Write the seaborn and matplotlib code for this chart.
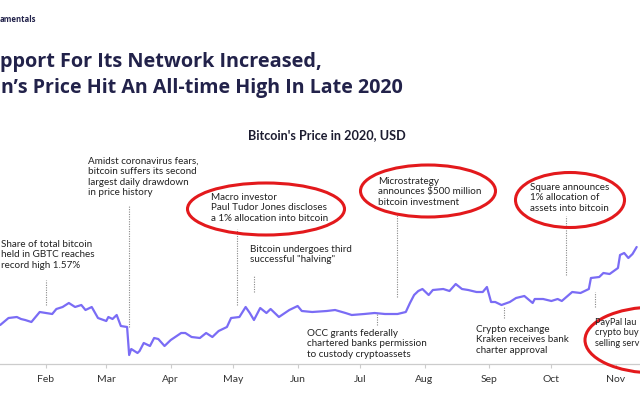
import pandas as pd
import matplotlib.pyplot as plt
import matplotlib.dates as mdates
from matplotlib.patches import Ellipse
import seaborn as sns

# Bitcoin price 2020 (USD)
dates = ['2020-01-10', '2020-01-14', '2020-01-18', '2020-01-20', '2020-01-22', '2020-01-25',
         '2020-01-29', '2020-02-04', '2020-02-06', '2020-02-09', '2020-02-12', '2020-02-15',
         '2020-02-18', '2020-02-20', '2020-02-23', '2020-02-26', '2020-03-01', '2020-03-02',
         '2020-03-04', '2020-03-06', '2020-03-08', '2020-03-11', '2020-03-12', '2020-03-13',
         '2020-03-16', '2020-03-17', '2020-03-19', '2020-03-22', '2020-03-24', '2020-03-26',
         '2020-03-29', '2020-04-01', '2020-04-06', '2020-04-08', '2020-04-11', '2020-04-15',
         '2020-04-18', '2020-04-21', '2020-04-24', '2020-04-28', '2020-04-30', '2020-05-04',
         '2020-05-07', '2020-05-09', '2020-05-11', '2020-05-14', '2020-05-17', '2020-05-19',
         '2020-05-23', '2020-05-28', '2020-06-01', '2020-06-03', '2020-06-08', '2020-06-15',
         '2020-06-19', '2020-06-24', '2020-06-27', '2020-07-03', '2020-07-08', '2020-07-13',
         '2020-07-19', '2020-07-23', '2020-07-25', '2020-07-27', '2020-07-29', '2020-07-31',
         '2020-08-03', '2020-08-05', '2020-08-10', '2020-08-13', '2020-08-16', '2020-08-19',
         '2020-08-22', '2020-08-26', '2020-08-29', '2020-08-31', '2020-09-02', '2020-09-04',
         '2020-09-07', '2020-09-11', '2020-09-14', '2020-09-18', '2020-09-22', '2020-09-23',
         '2020-09-27', '2020-10-01', '2020-10-04', '2020-10-06', '2020-10-11', '2020-10-15',
         '2020-10-19', '2020-10-20', '2020-10-24', '2020-10-26', '2020-10-29', '2020-10-31',
         '2020-11-02', '2020-11-03', '2020-11-05', '2020-11-07', '2020-11-09', '2020-11-11']
prices = [8150, 8850, 8950, 8750, 8650, 8450,
          9450, 9250, 9750, 9950, 10350, 9950,
          10150, 9650, 9950, 8850, 8550, 8950,
          8750, 9150, 8050, 7950, 5150, 5750,
          5350, 5550, 6350, 6050, 6850, 6750,
          6050, 6650, 7350, 7350, 6950, 6850,
          7350, 6950, 7550, 7950, 8850, 8950,
          9950, 9350, 8650, 9850, 9350, 9750,
          8950, 9650, 10050, 9550, 9450, 9550,
          9650, 9350, 9150, 9250, 9350, 9250,
          9250, 9450, 10350, 11150, 11550, 11750,
          11150, 11650, 11750, 11550, 12250, 11750,
          11650, 11450, 11450, 11950, 10450, 10450,
          10150, 10450, 10850, 11050, 10350, 10750,
          10750, 10550, 10750, 10550, 11450, 11350,
          11750, 12850, 12950, 13350, 13250, 13550,
          13850, 15150, 15350, 14850, 15250, 15950]

# events: label (as far as it is visible in the crop), date of the dotted leader
event_labels = ['Share of total bitcoin\nheld in GBTC reaches\nrecord high 1.57%',
                'Amidst coronavirus fears,\nbitcoin suffers its second\nlargest daily drawdown\nin price history',
                'Macro investor\nPaul Tudor Jones discloses\na 1% allocation into bitcoin',
                'Bitcoin undergoes third\nsuccessful "halving"',
                'OCC grants federally\nchartered banks permission\nto custody cryptoassets',
                'Microstrategy\nannounces $500 million\nbitcoin investment',
                'Crypto exchange\nKraken receives bank\ncharter approval',
                'Square announces\n1% allocation of\nassets into bitcoin',
                'PayPal lau\ncrypto buy\nselling serv']
event_dates = ['2020-02-01', '2020-03-12', '2020-05-03', '2020-05-11', '2020-07-09',
               '2020-07-19', '2020-09-08', '2020-10-08', '2020-10-22']

df = pd.DataFrame({'date': pd.to_datetime(dates), 'price': prices})

sns.set_theme(style='white')
plt.rcParams['font.family'] = ['Lato', 'DejaVu Sans']

W, H = 640, 420
fig = plt.figure(figsize=(6.4, 4.2), dpi=100)
ax_bottom, ax_top = 364, 100
ax = fig.add_axes([0, 1 - ax_bottom / H, 1, (ax_bottom - ax_top) / H])

sns.lineplot(data=df, x='date', y='price', ax=ax, color='#7a6cf5', linewidth=1.6)

start = pd.Timestamp('2020-01-01')
ax.set_xlim(start + pd.Timedelta(days=8.9), start + pd.Timedelta(days=316.6))
ax.set_ylim(4250, 30650)
ax.set_xlabel('')
ax.set_ylabel('')
ax.set_yticks([])
ax.xaxis.set_major_locator(mdates.MonthLocator())
ax.xaxis.set_major_formatter(mdates.DateFormatter('%b'))
ax.tick_params(axis='x', length=3, width=0.8, color='#cccccc', labelsize=7.5,
               labelcolor='#333333', pad=5, bottom=True)
for s in ['top', 'left', 'right']:
    ax.spines[s].set_visible(False)
ax.spines['bottom'].set_color('#cccccc')
ax.spines['bottom'].set_linewidth(0.9)
ax.patch.set_alpha(0)


def fx(px):
    return px / W


def fy(py):
    return 1 - py / H


def ay(py):
    return (ax_bottom - py) / (ax_bottom - ax_top)


# text anchor (px), leader span (px) and font size for each event
text_pos = [(1, 240), (88, 157), (211, 193), (250, 245), (307, 329),
            (378, 177), (476, 325), (530, 183), (595, 318)]
leader_span = [(280, 305), (206, 327), (229, 305), (275, 292), (313, 325),
               (215, 297), (306, 318), (216, 275), (292, 307)]
label_size = [7.1] * 8 + [6.7]

for label, d, (tx, ty), (y0, y1), fs in zip(event_labels, event_dates, text_pos,
                                            leader_span, label_size):
    fig.text(fx(tx), fy(ty), label, ha='left', va='top', fontsize=fs,
             color='#222222', linespacing=1.2)
    ax.axvline(pd.Timestamp(d), ymin=ay(y1), ymax=ay(y0), color='#888888',
               linestyle=(0, (1, 1.2)), linewidth=0.8)

# red highlight ellipses (center x, center y, width, height in px)
for cx, cy, w, h in [(266, 209, 157, 52), (428, 191, 135, 52),
                     (570, 200, 109, 55), (655, 340, 140, 66)]:
    fig.add_artist(Ellipse((fx(cx), fy(cy)), w / W, h / H, transform=fig.transFigure,
                           fill=False, edgecolor='#e3191c', linewidth=2.2))

fig.text(fx(327), fy(135), "Bitcoin's Price in 2020, USD", ha='center', va='center',
         fontsize=9.1, fontweight='bold', color='#1c1c30')
title_font = ['Open Sans', 'DejaVu Sans']
fig.text(fx(322), fy(62), 'pport For Its Network Increased,', family=title_font,
         ha='right', va='center', fontsize=14.3, fontweight='bold', color='#22224a')
fig.text(fx(1), fy(88), "n\u2019s Price Hit An All-time High In Late 2020", family=title_font,
         ha='left', va='center', fontsize=14.1, fontweight='bold', color='#22224a')
fig.text(fx(0), fy(19), 'amentals', ha='left', va='center', family=title_font,
         fontsize=5.6, fontweight='bold', color='#22224a')

fig.savefig('out.png', dpi=100, facecolor='white')
